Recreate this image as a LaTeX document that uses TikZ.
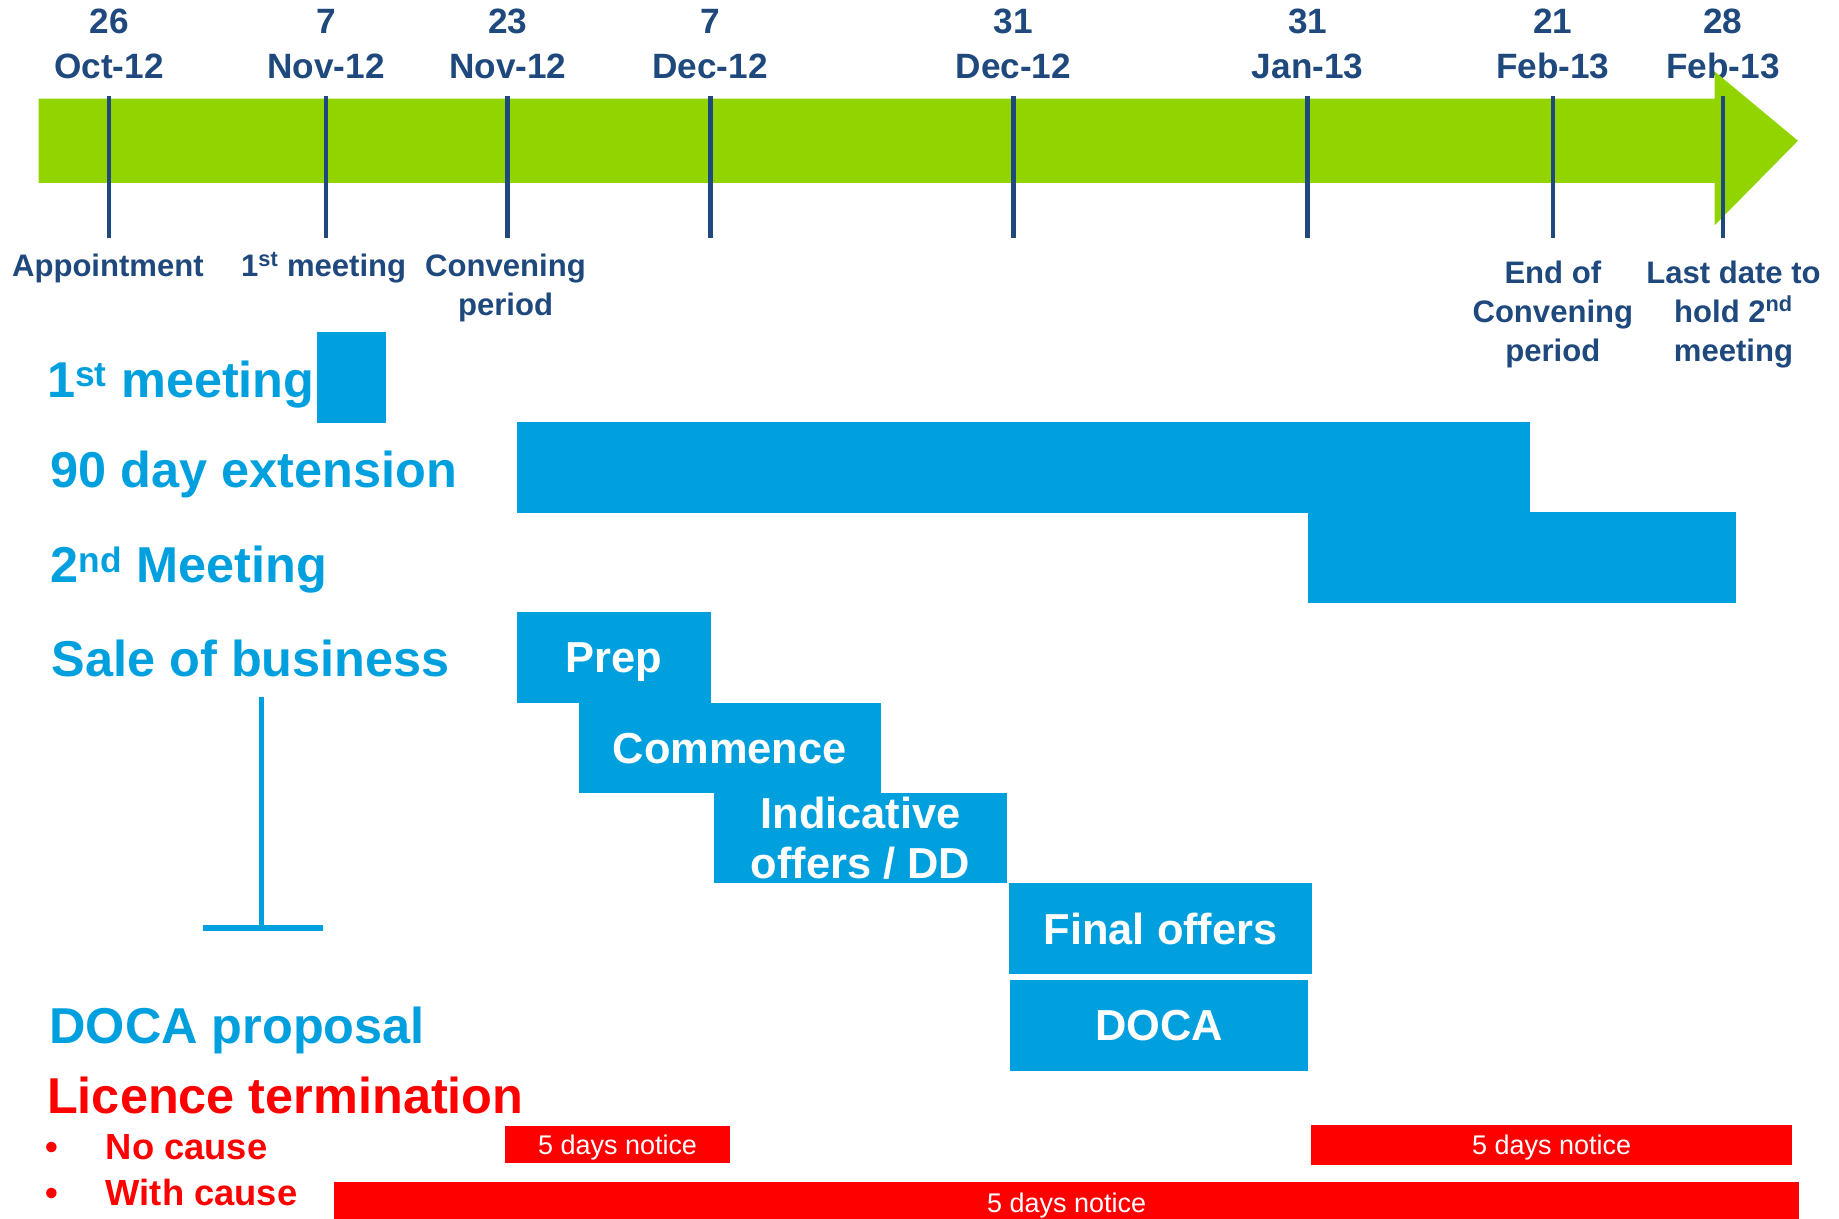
\documentclass[tikz,border=0pt]{standalone}
\usepackage{fontspec}
\setmainfont{Liberation Sans}
\usepackage{xcolor}
\usepackage{tikz}
\usetikzlibrary{positioning,calc}

\definecolor{tlgreen}{RGB}{146,212,0}
\definecolor{tlnavy}{RGB}{31,73,125}
\definecolor{tlblue}{RGB}{0,160,223}
\definecolor{tlred}{RGB}{255,0,0}

\tikzset{
  datelbl/.style={anchor=base, align=center, inner sep=0pt, text=tlnavy,
    font=\fontsize{30}{38.4}\selectfont\bfseries},
  eventlbl/.style={anchor=base, align=center, inner sep=0pt, text=tlnavy,
    font=\fontsize{26.5}{33}\selectfont\bfseries},
  rowlbl/.style={anchor=base west, inner sep=0pt, text=tlblue,
    font=\fontsize{43}{50}\selectfont\bfseries},
  boxtxt/.style={inner sep=0pt, text depth=0pt, align=center, text=white,
    font=\fontsize{37}{43}\selectfont\bfseries},
  noticetxt/.style={inner sep=0pt, text depth=0pt, text=white,
    font=\fontsize{23}{27}\selectfont},
  tick/.style={draw=tlnavy, line width=4},
}

\begin{document}
\begin{tikzpicture}[x=1pt, y=-1pt]
        \useasboundingbox (0,0) rectangle (1568,1039);

        \node[datelbl] (d1) at (93,66.8) {26\\Oct-12};
        \node[datelbl] (d2) at (278,66.8) {7\\Nov-12};
        \node[datelbl] (d3) at (433,66.8) {23\\Nov-12};
        \node[datelbl] (d4) at (605.5,66.8) {7\\Dec-12};
        \node[datelbl] (d5) at (864,66.8) {31\\Dec-12};
        \node[datelbl] (d6) at (1115,66.8) {31\\Jan-13};
        \node[datelbl] (d7) at (1324,66.8) {21\\Feb-13};
        \node[datelbl] (d8) at (1469,66.8) {28\\Feb-13};

        \fill[tlgreen] (33,84) -- (1462,84) -- (1462,61) -- (1533,120) -- (1462,192) -- (1462,156) -- (33,156) -- cycle;

        \draw[tick] (93,82) -- (93,203);
        \draw[tick] (278,82) -- (278,203);
        \draw[tick] (433,82) -- (433,203);
        \draw[tick] (605.5,82) -- (605.5,203);
        \draw[tick] (864,82) -- (864,203);
        \draw[tick] (1115,82) -- (1115,203);
        \draw[tick] (1324,82) -- (1324,203);
        \draw[tick] (1469,82) -- (1469,203);

        \node[eventlbl] (appt) at (92,236) {Appointment};
        \node[eventlbl] (firstmtg) at (276,236) {1\textsuperscript{st} meeting};
        \node[eventlbl] (conv) at (431,269) {Convening\\period};
        \node[eventlbl] (convend) at (1324,308) {End of\\Convening\\period};
        \node[eventlbl] (lastdate) at (1478,308) {Last date to\\hold 2\textsuperscript{nd}\\meeting};

        \node[rowlbl] (rfirst) at (40,338.5) {1\textsuperscript{st} meeting};
        \node[rowlbl] (rext) at (43,416) {90 day extension};
        \node[rowlbl] (rsecond) at (43,497) {2\textsuperscript{nd} Meeting};
        \node[rowlbl] (rsale) at (44,577) {Sale of business};
        \node[rowlbl] (rdoca) at (42,890) {DOCA proposal};
        \node[rowlbl, text=tlred] (rlic) at (40,949) {Licence termination};

        \node[anchor=base, inner sep=0pt, text=tlred, font=\fontsize{31}{36}\selectfont\bfseries] (b1) at (44,989) {•};
        \node[anchor=base west, inner sep=0pt, text=tlred, font=\fontsize{31}{36}\selectfont\bfseries] (nocause) at (90,989) {No cause};
        \node[anchor=base, inner sep=0pt, text=tlred, font=\fontsize{31}{36}\selectfont\bfseries] (b2) at (44,1028) {•};
        \node[anchor=base west, inner sep=0pt, text=tlred, font=\fontsize{31}{36}\selectfont\bfseries] (withcause) at (90,1028) {With cause};

        \fill[tlblue] (270,283) rectangle (329,360.7);
        \fill[tlblue] (441,360) rectangle (1304.6,437);
        \fill[tlblue] (1115,436.6) rectangle (1480,514);
        \fill[tlblue] (441,522) rectangle (606,599.5) node[midway, boxtxt] (prep) {Prep};
        \fill[tlblue] (493.5,599.5) rectangle (751,676) node[midway, boxtxt] (comm) {Commence};
        \fill[tlblue] (609,676) rectangle (858.6,753) node[midway, boxtxt] (indic) {Indicative\\offers / DD};
        \fill[tlblue] (860.5,753) rectangle (1118.7,830.5) node[midway, boxtxt] (final) {Final offers};
        \fill[tlblue] (861,835.6) rectangle (1115.3,913) node[midway, boxtxt] (doca) {DOCA};

        \draw[tlblue, line width=4] (223,594) -- (223,791);
        \draw[tlblue, line width=5] (173,791) -- (275,791);

        \fill[tlred] (430.6,960) rectangle (622.5,991.5) node[midway, noticetxt] (notice1) {5 days notice};
        \fill[tlred] (1118,959) rectangle (1528,993) node[midway, noticetxt] (notice2) {5 days notice};
        \fill[tlred] (285,1008) rectangle (1534,1039) node[midway, noticetxt, yshift=-2] (notice3) {5 days notice};
    \end{tikzpicture}
\end{document}
